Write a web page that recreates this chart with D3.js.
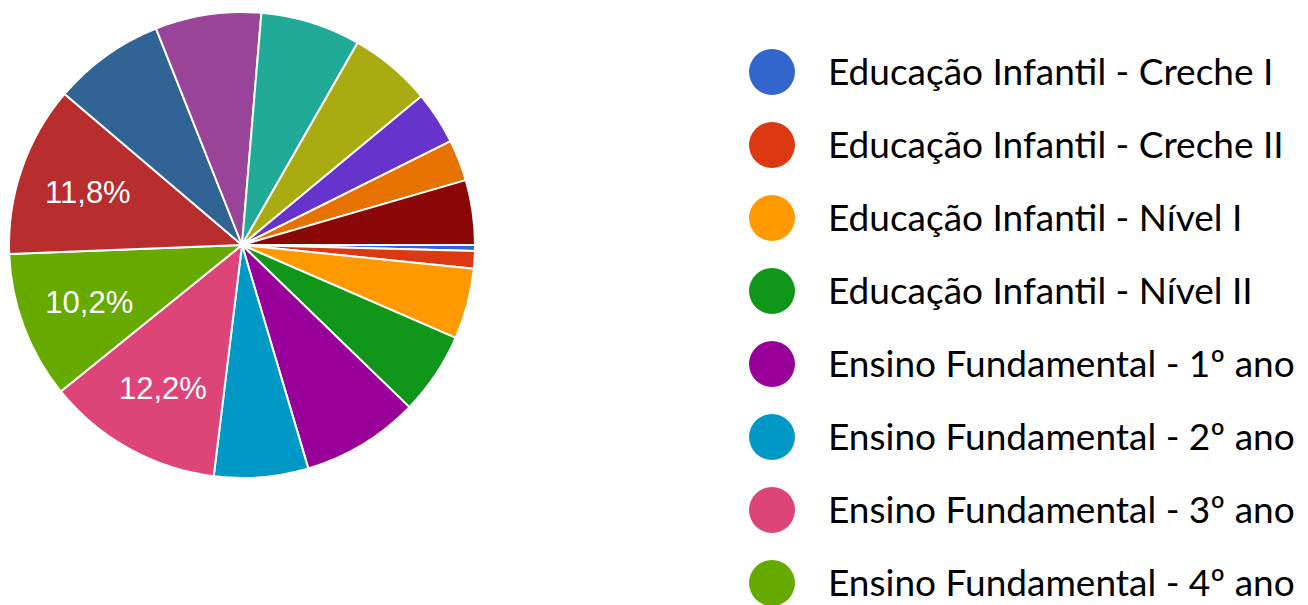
<!DOCTYPE html>
<html>
<head>
<meta charset="utf-8">
<script src="https://cdn.jsdelivr.net/npm/d3@7"></script>
<style>
  html, body { margin: 0; padding: 0; background: #fff; }
  svg { display: block; }
</style>
</head>
<body>
<div id="chart"></div>
<script>
// categories (only the first 8 fit in the visible legend)
const categories = [
  'Educação Infantil - Creche I',
  'Educação Infantil - Creche II',
  'Educação Infantil - Nível I',
  'Educação Infantil - Nível II',
  'Ensino Fundamental - 1º ano',
  'Ensino Fundamental - 2º ano',
  'Ensino Fundamental - 3º ano',
  'Ensino Fundamental - 4º ano',
  'Ensino Fundamental - 5º ano',
  'Ensino Fundamental - 6º ano',
  'Ensino Fundamental - 7º ano',
  'Ensino Fundamental - 8º ano',
  'Ensino Fundamental - 9º ano',
  'Ensino Médio - 1º ano',
  'Ensino Médio - 2º ano',
  'Ensino Médio - 3º ano'
];

// responses per category
const counts = [1, 3, 12, 14, 20, 16, 30, 25, 29, 19, 18, 17, 14, 9, 7, 11];

const colors = [
  '#3366cc', '#dc3912', '#ff9900', '#109618', '#990099', '#0099c6',
  '#dd4477', '#66aa00', '#b82e2e', '#316395', '#994499', '#22aa99',
  '#aaaa11', '#6633cc', '#e67300', '#8b0707'
];

const legendRows = 8;

const width = 1308, height = 605;
const cx = 242, cy = 245, radius = 233;

const svg = d3.select('#chart')
  .append('svg')
  .attr('width', width)
  .attr('height', height);

const data = categories.map((name, i) => ({ name, value: counts[i] }));
const total = d3.sum(counts);

const color = d3.scaleOrdinal()
  .domain(categories)
  .range(colors);

// slices go clockwise starting at 3 o'clock
const pie = d3.pie()
  .value(d => d.value)
  .sort(null)
  .startAngle(Math.PI / 2)
  .endAngle(Math.PI / 2 + 2 * Math.PI);

const arc = d3.arc().innerRadius(0).outerRadius(radius);
const labelArc = d3.arc().innerRadius(radius * 0.7).outerRadius(radius * 0.7);

const g = svg.append('g')
  .attr('transform', `translate(${cx},${cy})`);

const arcs = pie(data);

g.selectAll('path.slice')
  .data(arcs)
  .enter()
  .append('path')
  .attr('class', 'slice')
  .attr('d', arc)
  .attr('fill', d => color(d.data.name))
  .attr('stroke', '#fff')
  .attr('stroke-width', 2)
  .attr('stroke-linejoin', 'round');

// percentage labels only on the big slices
const fmt = v => (Math.round(v * 1000) / 10).toFixed(1).replace('.', ',') + '%';

g.selectAll('text.pct')
  .data(arcs.filter(d => d.data.value / total >= 0.1))
  .enter()
  .append('text')
  .attr('class', 'pct')
  .attr('transform', d => `translate(${labelArc.centroid(d)})`)
  .attr('text-anchor', 'middle')
  .attr('dy', '0.36em')
  .style('font-family', '"Liberation Sans", Arial, sans-serif')
  .style('font-size', '31px')
  .style('fill', '#fff')
  .text(d => fmt(d.data.value / total));

// legend
const legend = svg.append('g')
  .attr('transform', 'translate(772,72)');

const rows = legend.selectAll('g.item')
  .data(categories.slice(0, legendRows))
  .enter()
  .append('g')
  .attr('class', 'item')
  .attr('transform', (d, i) => `translate(0,${i * 73})`);

rows.append('circle')
  .attr('r', 23)
  .attr('fill', d => color(d));

rows.append('text')
  .attr('x', 56)
  .attr('dy', '0.35em')
  .style('font-family', 'Lato, "Open Sans", sans-serif')
  .style('font-size', '37px')
  .style('fill', '#000')
  .text(d => d);
</script>
</body>
</html>
